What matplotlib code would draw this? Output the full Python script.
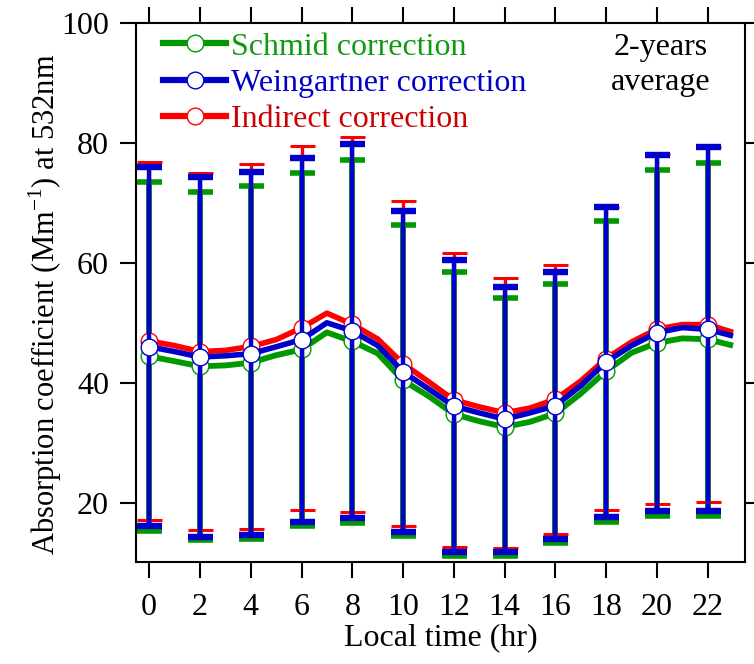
import numpy as np
import matplotlib
matplotlib.use('Agg')
import matplotlib.pyplot as plt
from matplotlib.lines import Line2D


# Diurnal absorption coefficient, three correction schemes
# --------------------------------------------------------
hours = np.arange(24)

schmid = [44.4, 43.6, 42.75, 42.9, 43.35, 44.6, 45.55, 48.4, 46.9, 44.9, 40.4, 37.8,
          34.8, 33.6, 32.65, 33.5, 34.9, 38.2, 41.95, 45.0, 46.65, 47.4, 47.25, 46.2]
weingartner = [46.0, 45.2, 44.3, 44.5, 44.85, 46.0, 47.2, 50.0, 48.65, 46.2, 41.85, 39.0,
               36.1, 35.0, 33.95, 35.0, 36.2, 39.5, 43.5, 46.2, 48.35, 49.2, 48.9, 47.8]
indirect = [46.95, 46.2, 45.2, 45.4, 46.05, 47.2, 49.15, 51.6, 49.75, 47.3, 43.2, 40.2,
            37.15, 36.0, 35.0, 35.8, 37.25, 40.3, 44.05, 46.8, 48.95, 49.7, 49.7, 48.4]

# standard deviation, every second hour
schmid_sd = [29.0, 28.95, 29.35, 29.35, 30.2, 25.9, 23.6, 21.45, 21.6, 25.05, 28.75, 29.35]
weingartner_sd = [29.9, 29.9, 30.25, 30.3, 31.15, 26.75, 24.3, 22.05, 22.2, 25.8, 29.65, 30.3]
indirect_sd = [29.85, 29.7, 30.35, 30.35, 31.25, 27.1, 24.55, 22.5, 22.35, 25.3, 29.1, 29.5]

labels = ['Schmid correction', 'Weingartner correction', 'Indirect correction']
xticks = np.arange(0, 23, 2)
yticks = [20, 40, 60, 80, 100]


plt.rcParams['font.family'] = ['Liberation Serif', 'DejaVu Serif']
plt.rcParams['mathtext.fontset'] = 'custom'
plt.rcParams['mathtext.rm'] = 'Liberation Serif'
plt.rcParams['font.size'] = 23


# Cartesian plane setup
# ---------------------
fig = plt.figure(figsize=(7.54, 6.64), dpi=100)
ax = fig.add_axes([0.1804, 0.154, 0.808, 0.812])

ax.set_xlim(-0.52, 23.48)
ax.set_ylim(10.2, 100)
ax.set_xticks(xticks)
ax.set_yticks(yticks)
ax.set_xlabel('Local time (hr)', labelpad=1)
ax.set_ylabel('Absorption coefficient (Mm$^{-1}$) at 532nm', fontsize=22)
ax.yaxis.set_label_coords(-0.118, 0.478)

for s in ax.spines.values():
    s.set_linewidth(1.5)
ax.tick_params(direction='out', length=11.5, width=1.5,
               top=True, right=True, labeltop=False, labelright=False)
ax.tick_params(axis='x', pad=11)
ax.tick_params(axis='y', pad=8)


# Plot data
# ---------
series = [
    (schmid, schmid_sd, '#009a00', 4.2, 4.2, 4.0),
    (indirect, indirect_sd, '#ff0000', 4.0, 2.4, 2.2),
    (weingartner, weingartner_sd, '#0000cc', 4.0, 3.2, 4.6),
]
for z, (vals, sd, col, lw, elw, cth) in enumerate(series):
    vals = np.asarray(vals)
    ax.plot(hours, vals, color=col, lw=lw, zorder=2 + z, solid_capstyle='butt')
    ax.errorbar(hours[::2], vals[::2], yerr=sd, fmt='none', ecolor=col,
                elinewidth=elw, capsize=9, capthick=cth, zorder=2 + z)
    ax.plot(hours[::2], vals[::2], ls='none', marker='o', ms=12, mfc='white',
            mec=col, mew=1.0, zorder=2 + z)


# Legend and note
# ---------------
handle_cols = ['#009a00', '#0000cc', '#ff0000']
text_cols = ['#109a10', '#0000cc', '#cc0000']
handles = [Line2D([], [], color=c, lw=4.5, marker='o', ms=12, mfc='white',
                  mec=c, mew=1.0) for c in handle_cols]
leg = ax.legend(handles, labels, loc='upper left', bbox_to_anchor=(0.045, 0.982),
                frameon=False, handlelength=1.95, handletextpad=0.15,
                labelspacing=0.22, borderpad=0, borderaxespad=0)
for t, c in zip(leg.get_texts(), text_cols):
    t.set_color(c)

ax.text(0.861, 0.98, '2-years\naverage', transform=ax.transAxes,
        ha='center', va='top', linespacing=1.25)

fig.savefig('out.png', dpi=100)
